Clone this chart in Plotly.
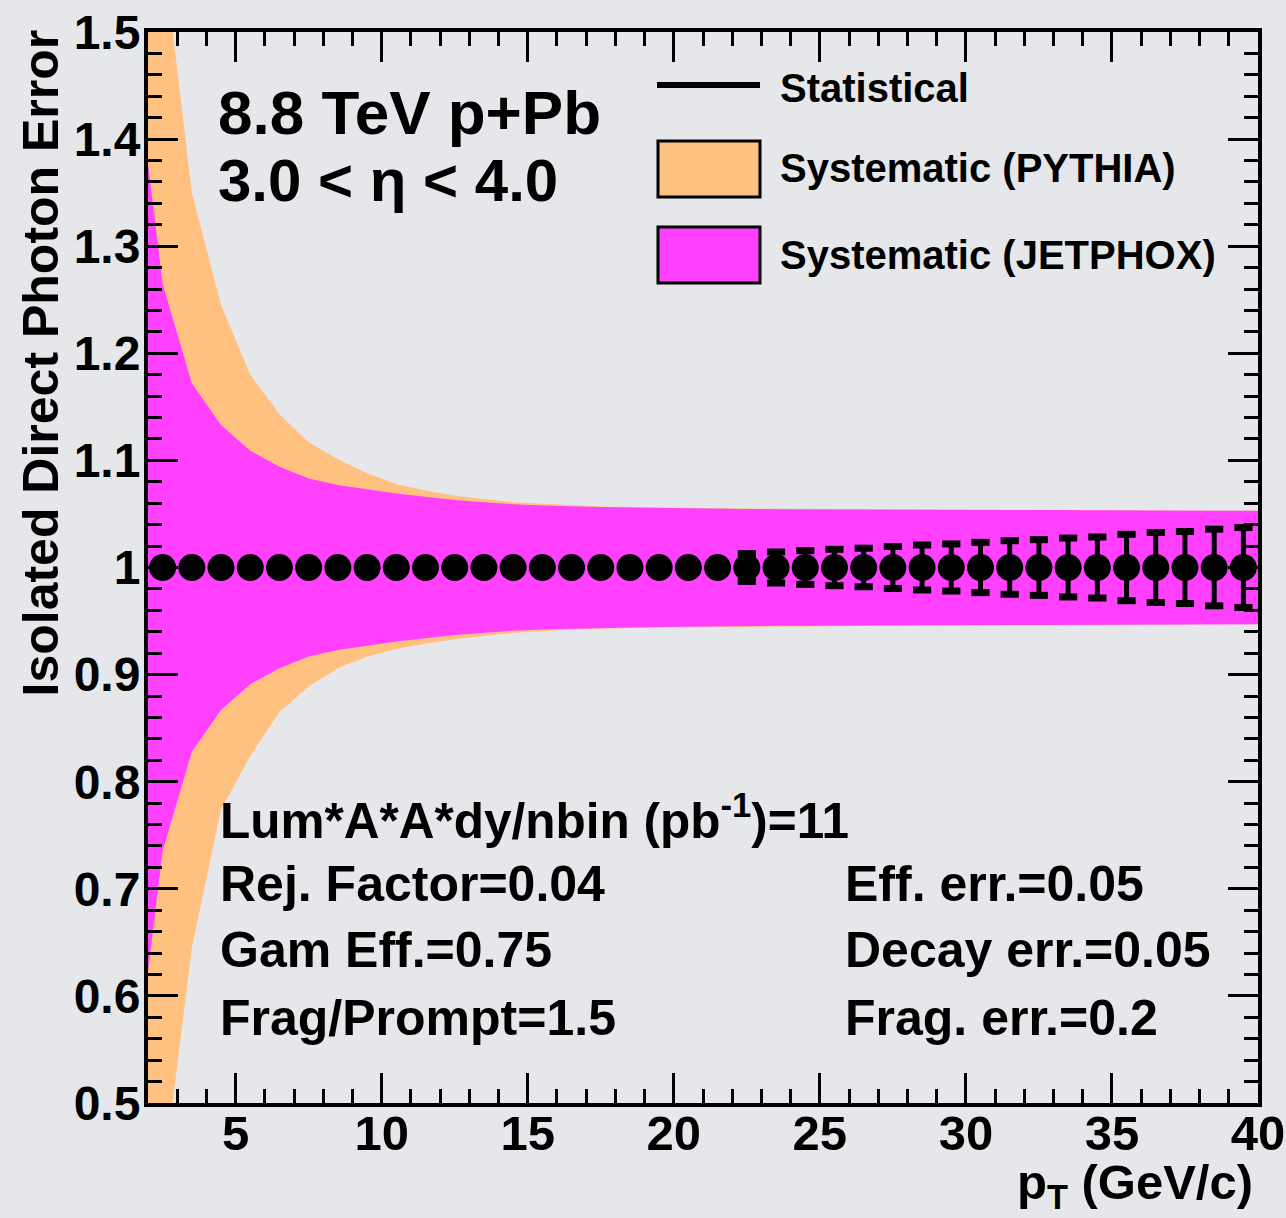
import plotly.graph_objects as go

# ---------------- data ----------------
pt = [2.5, 3.5, 4.5, 5.5, 6.5, 7.5, 8.5, 9.5, 10.5, 11.5, 12.5, 13.5, 14.5, 15.5,
      16.5, 17.5, 18.5, 19.5, 20.5, 21.5, 22.5, 23.5, 24.5, 25.5, 26.5, 27.5, 28.5,
      29.5, 30.5, 31.5, 32.5, 33.5, 34.5, 35.5, 36.5, 37.5, 38.5, 39.5]
ratio = [1.0, 1.0, 1.0, 1.0, 1.0, 1.0, 1.0, 1.0, 1.0, 1.0, 1.0, 1.0, 1.0, 1.0,
         1.0, 1.0, 1.0, 1.0, 1.0, 1.0, 1.0, 1.0, 1.0, 1.0, 1.0, 1.0, 1.0,
         1.0, 1.0, 1.0, 1.0, 1.0, 1.0, 1.0, 1.0, 1.0, 1.0, 1.0]
stat_err = [0.001, 0.001, 0.0015, 0.002, 0.002, 0.0025, 0.003, 0.0035, 0.004, 0.0045,
            0.005, 0.0055, 0.006, 0.0065, 0.007, 0.0075, 0.008, 0.0085, 0.009, 0.0102,
            0.013, 0.0145, 0.0157, 0.017, 0.018, 0.0196, 0.021, 0.022, 0.0235, 0.025,
            0.026, 0.0275, 0.0285, 0.031, 0.0327, 0.0336, 0.0358, 0.0373]

band_x = [1.5, 2.5, 3.5, 4.5, 5.5, 6.5, 7.5, 8.5, 9.5, 10.5, 11.5, 12.5, 13.5, 14.5,
          15.5, 16.5, 17.5, 18.5, 19.5, 20.5, 21.5, 22.5, 23.5, 24.5, 25.5, 26.5, 27.5,
          28.5, 29.5, 30.5, 31.5, 32.5, 33.5, 34.5, 35.5, 36.5, 37.5, 38.5, 39.5, 40.5]
pythia_up = [0.85, 0.58, 0.35, 0.245, 0.18, 0.143, 0.117, 0.101, 0.088, 0.078, 0.072,
             0.067, 0.064, 0.061, 0.0595, 0.058, 0.057, 0.0565, 0.056, 0.0555, 0.0552,
             0.055, 0.0548, 0.0545, 0.0545, 0.0545, 0.0545, 0.054, 0.054, 0.054, 0.0538,
             0.0536, 0.0534, 0.0532, 0.053, 0.053, 0.053, 0.053, 0.053, 0.053]
pythia_lo = [0.85, 0.575, 0.355, 0.226, 0.176, 0.135, 0.111, 0.094, 0.083, 0.076, 0.071,
             0.067, 0.064, 0.061, 0.0595, 0.058, 0.057, 0.0565, 0.056, 0.0555, 0.0552,
             0.055, 0.0548, 0.0545, 0.0545, 0.0545, 0.0545, 0.054, 0.054, 0.054, 0.0538,
             0.0536, 0.0534, 0.0532, 0.053, 0.053, 0.053, 0.053, 0.053, 0.053]
jetphox_err = [0.49, 0.265, 0.172, 0.133, 0.109, 0.094, 0.083, 0.077, 0.073, 0.069, 0.066,
               0.063, 0.061, 0.059, 0.058, 0.057, 0.0565, 0.056, 0.0555, 0.055, 0.0548,
               0.0546, 0.0545, 0.0545, 0.0545, 0.0545, 0.0545, 0.054, 0.054, 0.054, 0.0538,
               0.0536, 0.0534, 0.0532, 0.053, 0.053, 0.053, 0.053, 0.053, 0.053]

y_tickvals = [0.5, 0.6, 0.7, 0.8, 0.9, 1.0, 1.1, 1.2, 1.3, 1.4, 1.5]
y_ticktext = ["0.5", "0.6", "0.7", "0.8", "0.9", "1", "1.1", "1.2", "1.3", "1.4", "1.5"]
x_tickvals = [5, 10, 15, 20, 25, 30, 35, 40]
x_ticktext = ["5", "10", "15", "20", "25", "30", "35", "40"]

legend_labels = ["Statistical", "Systematic (PYTHIA)", "Systematic (JETPHOX)"]
info_left = ["Rej. Factor=0.04", "Gam Eff.=0.75", "Frag/Prompt=1.5"]
info_right = ["Eff. err.=0.05", "Decay err.=0.05", "Frag. err.=0.2"]

# ---------------- style ----------------
BG = "#e5e7eb"
ORANGE = "#ffc080"
MAGENTA = "#ff40ff"
FONT = "Liberation Sans, Arial, Helvetica, sans-serif"
W, H = 1286, 1218
L, R, T, B = 148, 1258, 32, 1103
MARKER_SIZE = 27
Y_RANGE = [0.5, 1.5]


def px_x(p):
    return (p - L) / (R - L)


def px_y(p):
    return (B - p) / (B - T)


def band_polygon(xs, up, lo):
    px = list(xs) + list(reversed(xs))
    py = [1 + u for u in up] + [1 - d for d in reversed(lo)]
    return px, py


fig = go.Figure()

ox, oy = band_polygon(band_x, pythia_up, pythia_lo)
fig.add_trace(go.Scatter(x=ox, y=oy, fill="toself", fillcolor=ORANGE, mode="lines",
                         line=dict(width=0, color=ORANGE), hoverinfo="skip", showlegend=False))
mx, my = band_polygon(band_x, jetphox_err, jetphox_err)
fig.add_trace(go.Scatter(x=mx, y=my, fill="toself", fillcolor=MAGENTA, mode="lines",
                         line=dict(width=0, color=MAGENTA), hoverinfo="skip", showlegend=False))

# ROOT-style thick caps, only where the error bar reaches beyond the marker
radius_data = (MARKER_SIZE / 2) * (Y_RANGE[1] - Y_RANGE[0]) / (B - T)
cap_x, cap_y = [], []
for x, r, e in zip(pt, ratio, stat_err):
    if e > radius_data:
        cap_x += [x, x]
        cap_y += [r + e, r - e]
fig.add_trace(go.Scatter(x=cap_x, y=cap_y, mode="markers",
                         marker=dict(symbol="line-ew", size=13, line=dict(width=7, color="black")),
                         hoverinfo="skip", showlegend=False, cliponaxis=False))

fig.add_trace(go.Scatter(
    x=pt, y=ratio, mode="markers",
    marker=dict(symbol="circle", size=MARKER_SIZE, color="black", line=dict(width=0)),
    error_y=dict(type="data", array=stat_err, visible=True, color="black",
                 thickness=5, width=0),
    showlegend=False, cliponaxis=False))

axis_common = dict(showline=True, linecolor="black", linewidth=4, mirror="allticks",
                   ticks="inside", ticklen=30, tickwidth=3, tickcolor="black",
                   showgrid=False, zeroline=False, automargin=False)

fig.update_xaxes(range=[2, 40], tickvals=x_tickvals, ticktext=x_ticktext,
                 minor=dict(dtick=1, tick0=0, ticks="inside", ticklen=14, tickwidth=3,
                            tickcolor="black", showgrid=False),
                 tickfont=dict(family=FONT, size=49, color="black", weight="bold"),
                 ticklabelstandoff=-16, **axis_common)
fig.update_yaxes(range=Y_RANGE, tickvals=y_tickvals, ticktext=y_ticktext,
                 minor=dict(dtick=0.02, tick0=0.5, ticks="inside", ticklen=14, tickwidth=3,
                            tickcolor="black", showgrid=False),
                 tickfont=dict(family=FONT, size=48, color="black", weight="bold"),
                 ticklabelstandoff=-6, **axis_common)

ann = []


def text(s, xp, yp, size, xanchor="left", yanchor="middle", angle=0):
    ann.append(dict(text=s, x=px_x(xp), y=px_y(yp), xref="paper", yref="paper",
                    xanchor=xanchor, yanchor=yanchor, showarrow=False, textangle=angle,
                    font=dict(family=FONT, size=size, color="black", weight="bold")))


text("8.8 TeV p+Pb", 216, 113, 62)
text("3.0 < η < 4.0", 216, 181, 60)

leg_y = [88, 168, 255]
for lab, yy in zip(legend_labels, leg_y):
    text(lab, 778, yy, 40)

text("Lum*A*A*dy/nbin (pb<sup>-1</sup>)=11", 218, 817, 49.5)
for lab, yy in zip(info_left, [884, 950, 1018]):
    text(lab, 218, yy, 50)
for lab, yy in zip(info_right, [884, 950, 1018]):
    text(lab, 843, yy, 50)

text("Isolated Direct Photon Error", 40, 28, 50, xanchor="center", yanchor="top", angle=-90)
text("p<sub>T</sub>&nbsp;(GeV/c)", 1255, 1185, 49, xanchor="right", yanchor="middle")

shapes = [
    dict(type="line", xref="paper", yref="paper", x0=px_x(657), x1=px_x(760),
         y0=px_y(85), y1=px_y(85), line=dict(color="black", width=6)),
    dict(type="rect", xref="paper", yref="paper", x0=px_x(658), x1=px_x(760),
         y0=px_y(141), y1=px_y(197), fillcolor=ORANGE, line=dict(color="black", width=3)),
    dict(type="rect", xref="paper", yref="paper", x0=px_x(658), x1=px_x(760),
         y0=px_y(227), y1=px_y(283), fillcolor=MAGENTA, line=dict(color="black", width=3)),
]

fig.update_layout(width=W, height=H, margin=dict(l=L, r=W - R, t=T, b=H - B),
                  paper_bgcolor=BG, plot_bgcolor="rgba(0,0,0,0)",
                  annotations=ann, shapes=shapes, showlegend=False,
                  font=dict(family=FONT, color="black"))

fig.write_html("out.html", config={"displayModeBar": False},
               post_script="document.body.style.margin='0';document.body.style.overflow='hidden';"
                           "document.body.style.background='" + BG + "';")
